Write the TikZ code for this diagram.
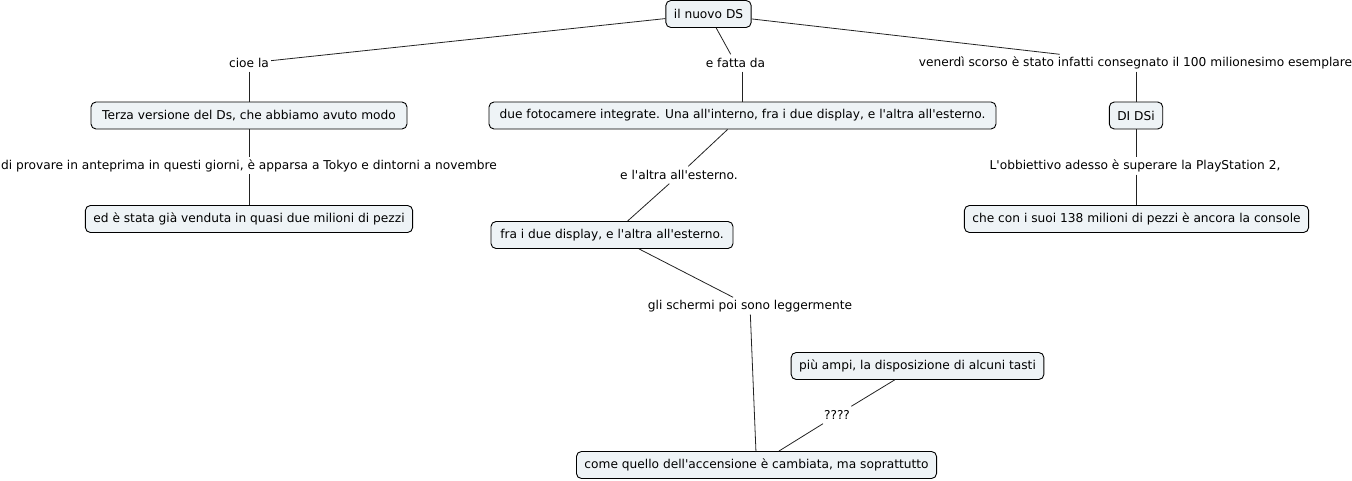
\documentclass[tikz,border=0pt]{standalone}
\usepackage{fontspec}
\setmainfont{DejaVu Sans}
\definecolor{boxfill}{HTML}{EEF3F6}
\definecolor{linecol}{HTML}{222222}
\newcommand{\ap}{\textquotesingle}
\begin{document}
\begin{tikzpicture}[x=1pt,y=-1pt,
  concept/.style={draw=black,fill=boxfill,rounded corners=5pt,line width=0.9pt,
    minimum height=27pt,inner xsep=8pt,inner ysep=2pt,font=\fontsize{12.2}{14}\selectfont},
  linklab/.style={inner xsep=2pt,inner ysep=0pt,minimum height=17pt,font=\fontsize{12.2}{14}\selectfont},
  conn/.style={draw=linecol,line width=0.8pt}]
\useasboundingbox (0,0) rectangle (1352,481);
% concepts
\node[concept] (root) at (708.5,14) {il nuovo DS};
\node[concept,minimum width=316pt] (terza) at (249,115.5) {Terza versione del Ds, che abbiamo avuto modo};
\node[concept] (venduta) at (249,219) {ed è stata già venduta in quasi due milioni di pezzi};
\node[concept,minimum width=507pt] (foto) at (742.5,115.5) {due fotocamere integrate. Una all\ap interno, fra i due display, e l\ap altra all\ap esterno.};
\node[concept,minimum width=242pt] (fra) at (612,235) {fra i due display, e l\ap altra all\ap esterno.};
\node[concept] (ampi) at (917.5,366) {più ampi, la disposizione di alcuni tasti};
\node[concept] (come) at (756.5,465) {come quello dell\ap accensione è cambiata, ma soprattutto};
\node[concept] (dsi) at (1136,115.5) {DI DSi};
\node[concept] (console) at (1136.5,219) {che con i suoi 138 milioni di pezzi è ancora la console};
% link labels
\node[linklab] (cioe) at (249,63) {cioe la};
\node[linklab] (fatta) at (735.5,63) {e fatta da};
\node[linklab] (venerdi) at (1135.5,63) {venerdì scorso è stato infatti consegnato il 100 milionesimo esemplare};
\node[linklab] (provare) at (249,165.5) {di provare in anteprima in questi giorni, è apparsa a Tokyo e dintorni a novembre};
\node[linklab] (altra) at (679,175) {e l\ap altra all\ap esterno.};
\node[linklab] (schermi) at (750,306) {gli schermi poi sono leggermente};
\node[linklab] (qq) at (837,415) {????};
\node[linklab] (obb) at (1135,166) {L\ap obbiettivo adesso è superare la PlayStation 2,};
% connectors
\draw[conn] (root) -- (cioe);
\draw[conn] (cioe) -- (terza);
\draw[conn] (terza) -- (provare);
\draw[conn] (provare) -- (venduta);
\draw[conn] (root) -- (fatta);
\draw[conn] (fatta.south -| foto.north) -- (foto.north);
\draw[conn] (root) -- (venerdi);
\draw[conn] (venerdi.south -| dsi.north) -- (dsi.north);
\draw[conn] (dsi) -- (obb.north -| dsi.south);
\draw[conn] (obb.south -| console.north) -- (console.north);
\draw[conn] (foto) -- (altra);
\draw[conn] (altra) -- (fra);
\draw[conn] (fra) -- (schermi);
\draw[conn] (schermi) -- (come);
\draw[conn] (ampi) -- (qq);
\draw[conn] (qq) -- (come);
\end{tikzpicture}
\end{document}
